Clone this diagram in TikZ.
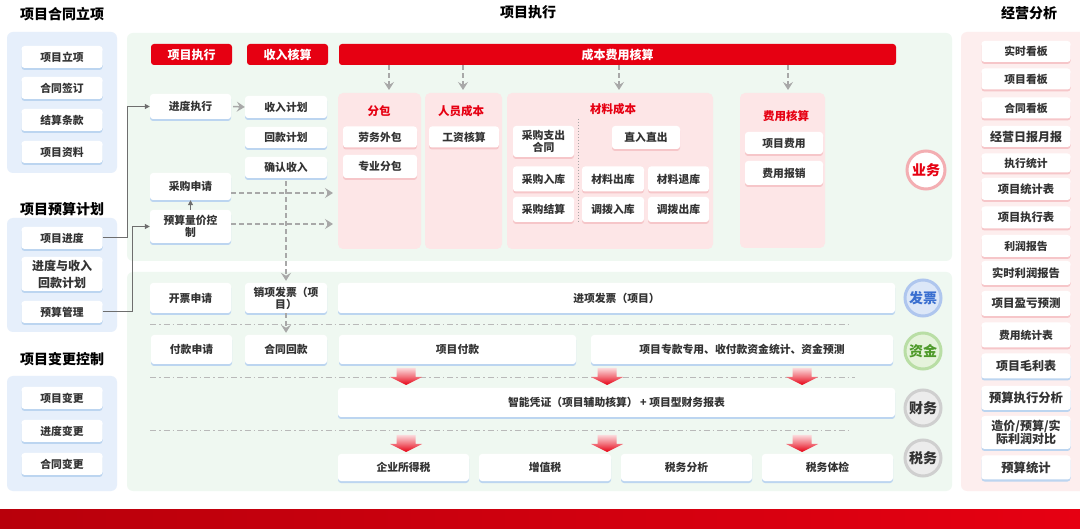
\documentclass[tikz,border=0pt]{standalone}
\usepackage{fontspec}
\setmainfont{Noto Sans CJK SC}
\usetikzlibrary{arrows.meta,calc}
\definecolor{cred}{HTML}{E60012}
\definecolor{cdark}{HTML}{B8000B}
\definecolor{txt}{HTML}{333333}
\definecolor{pblue}{HTML}{E6EFFB}
\definecolor{pgreen}{HTML}{EFF8F1}
\definecolor{ppink}{HTML}{FDEEEE}
\definecolor{cpink}{HTML}{FDE6E7}
\definecolor{shb}{HTML}{BCD5F0}
\definecolor{shp}{HTML}{F6C6C9}
\definecolor{gline}{HTML}{A8A8A8}
\definecolor{cconn}{HTML}{6E6E6E}
\definecolor{ywring}{HTML}{F3AEB2}
\definecolor{fpfill}{HTML}{DCE7F8}
\definecolor{fpring}{HTML}{AFC6EE}
\definecolor{fptext}{HTML}{3A6FD0}
\definecolor{zjfill}{HTML}{E5F3DB}
\definecolor{zjring}{HTML}{B9DEA5}
\definecolor{zjtext}{HTML}{4E9A2A}
\definecolor{cwfill}{HTML}{ECECEC}
\definecolor{cwring}{HTML}{CFCFCF}
\newcommand\fs[2]{\fontsize{#1}{#2}\selectfont\bfseries}
\tikzset{
  x=1pt, y={(0pt,-1pt)},
  wbase/.style={fill=white, rounded corners=3pt, inner sep=1pt, align=center, text=txt, font={\fs{10.8}{12}}},
  wb/.style={wbase, preaction={fill=shb, transform canvas={yshift=-2pt}}},
  wp/.style={wbase, preaction={fill=shp, transform canvas={yshift=-2pt}}},
  redhead/.style={fill=cred, rounded corners=3pt, text=white, font={\fs{12}{14}}, inner sep=0pt},
  ttl/.style={text=black, font={\fs{14}{16}}, inner sep=0pt},
  ptl/.style={text=cred, font={\fs{11.5}{13}}, inner sep=0pt},
  conn/.style={draw=cconn, line width=1pt, -{Triangle[length=5pt,width=5pt]}},
  garrow/.style={draw=gline, line width=1.5pt, -{Stealth[length=8pt,width=10pt,inset=3pt]}},
  darrow/.style={garrow, dash pattern=on 5pt off 3pt},
  ddot/.style={draw=gline!80, line width=0.8pt, dash pattern=on 6pt off 3pt on 1.5pt off 3pt},
  circ/.style={circle, minimum size=36pt, line width=3pt, font={\fs{14}{16}}, inner sep=0pt},
  redarr/.pic={\shade[top color=cred!15, bottom color=cred, middle color=cred!55]
     (-9.5,0) -- (9.5,0) -- (9.5,9) -- (16,9) -- (0,17) -- (-16,9) -- (-9.5,9) -- cycle;}
}
\begin{document}
\begin{tikzpicture}
\useasboundingbox (0,0) rectangle (1080,529);
\clip (0,0) rectangle (1080,529);
\fill[white] (0,0) rectangle (1080,529);
% panels
\fill[pblue, rounded corners=6pt] (7,32) rectangle (117,173);
\fill[pblue, rounded corners=6pt] (7,218) rectangle (117,332);
\fill[pblue, rounded corners=6pt] (7,376) rectangle (117,491);
\fill[pgreen, rounded corners=6pt] (127,33) rectangle (952,261);
\fill[pgreen, rounded corners=6pt] (127,272) rectangle (952,491);
\fill[ppink, rounded corners=6pt] (961,32) rectangle (1095,491);
\fill[cpink, rounded corners=5pt] (338,93) rectangle (421,249);
\fill[cpink, rounded corners=5pt] (425,93) rectangle (502,249);
\fill[cpink, rounded corners=5pt] (507,93) rectangle (713,249);
\fill[cpink, rounded corners=5pt] (740,93) rectangle (825,248);
% bottom bar
\shade[left color=cdark, right color=cred] (0,509) rectangle (1080,529);

% titles
\node[ttl] (t1) at (62,14) {项目合同立项};
\node[ttl] (t2) at (62,209) {项目预算计划};
\node[ttl] (t3) at (62,359) {项目变更控制};
\node[ttl] (t4) at (528,12) {项目执行};
\node[ttl] (t5) at (1029,13) {经营分析};

% left column
\begin{scope}[every node/.append style={minimum width=81, minimum height=22, font={\fs{12}{14}}}]
\node[wb] (l1) at (62,57) {项目立项};
\node[wb] (l2) at (62,88) {合同签订};
\node[wb] (l3) at (62,120) {结算条款};
\node[wb] (l4) at (62,152) {项目资料};
\node[wb] (l5) at (62,238) {项目进度};
\node[wb, minimum height=34, font={\fs{12}{17}}] (l6) at (62,274) {进度与收入\\回款计划};
\node[wb] (l7) at (62,312) {预算管理};
\node[wb] (l8) at (62,398) {项目变更};
\node[wb] (l9) at (62,431) {进度变更};
\node[wb] (l10) at (62,464) {合同变更};
\end{scope}

% red headers
\node[redhead, minimum width=81, minimum height=21] (h1) at (191.5,54.5) {项目执行};
\node[redhead, minimum width=81, minimum height=21] (h2) at (287.5,54.5) {收入核算};
\node[redhead, minimum width=557, minimum height=21] (h3) at (617.5,54.5) {成本费用核算};

% execution column
\node[wb, minimum width=81, minimum height=25] (jdzx) at (190.5,106.5) {进度执行};
\node[wb, minimum width=82, minimum height=22] (srjh) at (286,107) {收入计划};
\node[wb, minimum width=82, minimum height=21] (hkjh) at (286,137.5) {回款计划};
\node[wb, minimum width=82, minimum height=21] (qrsr) at (286,167.5) {确认收入};
\node[wb, minimum width=81, minimum height=27] (cgsq) at (190.5,186.5) {采购申请};
\node[wb, minimum width=81, minimum height=33, font={\fs{10.8}{12}}] (yslj) at (190.5,226.5) {预算量价控\\制};

% cost panel titles
\node[ptl] (pt1) at (379,111.5) {分包};
\node[ptl] (pt2) at (461,111.5) {人员成本};
\node[ptl] (pt3) at (613,109) {材料成本};
\node[ptl] (pt4) at (786,116) {费用核算};

% cost boxes
\node[wp, minimum width=74, minimum height=21] (lwwb) at (380,137) {劳务外包};
\node[wp, minimum width=74, minimum height=23] (zyfb) at (380,166.5) {专业分包};
\node[wp, minimum width=70, minimum height=21] (gzhs) at (464,137) {工资核算};
\node[wp, minimum width=61, minimum height=31, font={\fs{10.8}{11.5}}] (cght) at (543.5,141.5) {采购支出\\合同};
\node[wp, minimum width=68, minimum height=23] (zrzc) at (646,137.5) {直入直出};
\node[wp, minimum width=61, minimum height=25] (cgrk) at (543.5,179) {采购入库};
\node[wp, minimum width=62, minimum height=25] (clck) at (613,179) {材料出库};
\node[wp, minimum width=61, minimum height=25] (cltk) at (678.5,179) {材料退库};
\node[wp, minimum width=61, minimum height=25] (cgjs) at (543.5,209.5) {采购结算};
\node[wp, minimum width=62, minimum height=25] (dbrk) at (613,209.5) {调拨入库};
\node[wp, minimum width=61, minimum height=25] (dbck) at (678.5,209.5) {调拨出库};
\node[wp, minimum width=78, minimum height=22] (xmfy) at (784,143) {项目费用};
\node[wp, minimum width=78, minimum height=24] (fybx) at (784,173) {费用报销};
\draw[draw=gray!70, line width=0.6pt, dash pattern=on 1.5pt off 1.5pt] (578,119) -- (578,222);

% lower section
\node[wb, minimum width=81, minimum height=30] (kpsq) at (190.5,298) {开票申请};
\node[wb, minimum width=82, minimum height=30, font={\fs{10.8}{12}}] (xxfp) at (286,298) {销项发票（项\\目）};
\node[wb, minimum width=557, minimum height=30] (jxfp) at (616.5,298) {进项发票（项目）};
\node[wb, minimum width=81, minimum height=29] (fksq) at (191.5,349.5) {付款申请};
\node[wb, minimum width=82, minimum height=29] (hthk) at (286,349.5) {合同回款};
\node[wb, minimum width=237, minimum height=29] (xmfk) at (457.5,349.5) {项目付款};
\node[wb, minimum width=302, minimum height=29] (zjyc) at (742,349.5) {项目专款专用、收付款资金统计、资金预测};
\node[wb, minimum width=557, minimum height=29] (znpz) at (616.5,402.5) {智能凭证（项目辅助核算） + 项目型财务报表};
\node[wb, minimum width=131, minimum height=27] (qysd) at (403.5,467.5) {企业所得税};
\node[wb, minimum width=132, minimum height=27] (zzs) at (545,467.5) {增值税};
\node[wb, minimum width=131, minimum height=27] (swfx) at (686.5,467.5) {税务分析};
\node[wb, minimum width=131, minimum height=27] (swtj) at (827.5,467.5) {税务体检};

% legend circles
\node[circ, fill=white, draw=ywring, text=cred, minimum size=38pt] (yw) at (926,170) {业务};
\node[circ, fill=fpfill, draw=fpring, text=fptext] (fp) at (923,298) {发票};
\node[circ, fill=zjfill, draw=zjring, text=zjtext] (zj) at (923,351) {资金};
\node[circ, fill=cwfill, draw=cwring, text=txt] (cw) at (923,408) {财务};
\node[circ, fill=cwfill, draw=cwring, text=txt] (sw) at (923,458) {税务};

% dash-dot separators
\draw[ddot] (150,324) -- (848,324);
\draw[ddot] (150,377) -- (855,377);
\draw[ddot] (150,430) -- (849,430);

% red arrows
\foreach \xx in {406,607,802} {
  \pic at (\xx,368) {redarr};
  \pic at (\xx,435) {redarr};
}

% right column
\begin{scope}[every node/.append style={minimum width=89}]
\node[wp, minimum height=21] (r1) at (1026,51.5) {实时看板};
\node[wp, minimum height=21] (r2) at (1026,79) {项目看板};
\node[wp, minimum height=21] (r3) at (1026,108) {合同看板};
\node[wp, minimum height=21, font={\fs{12}{14}}] (r4) at (1026,136.5) {经营日报月报};
\node[wp, minimum height=19] (r5) at (1026,163) {执行统计};
\node[wp, minimum height=22, font={\fs{11.3}{13}}] (r6) at (1026,189) {项目统计表};
\node[wp, minimum height=22, font={\fs{11.3}{13}}] (r7) at (1026,217.5) {项目执行表};
\node[wp, minimum height=22] (r8) at (1026,246) {利润报告};
\node[wp, minimum height=24, font={\fs{11.3}{13}}] (r9) at (1026,273) {实时利润报告};
\node[wp, minimum height=25, font={\fs{11.5}{13}}] (r10) at (1026,303.5) {项目盈亏预测};
\node[wp, minimum height=25] (r11) at (1026,335) {费用统计表};
\node[wb, minimum height=25, font={\fs{12}{14}}] (r12) at (1026,366) {项目毛利表};
\node[wb, minimum height=24, font={\fs{12.3}{14}}] (r13) at (1026,398) {预算执行分析};
\node[wb, minimum height=33, font={\fs{12}{13.5}}] (r14) at (1026,432.5) {造价/预算/实\\际利润对比};
\node[wb, minimum height=24, font={\fs{12.3}{14}}] (r15) at (1026,467.5) {预算统计};
\end{scope}

% connectors
\coordinate (v1) at (127,0);
\coordinate (v2) at (132,0);
\draw[conn] (l5.east) -- (l5.east -| v1) |- (jdzx.west);
\draw[conn] (l7.east) -- (l7.east -| v2) |- (yslj.west);
\draw[conn] (yslj.north) -- (cgsq.south);
\draw[garrow, shorten <=2pt] (jdzx.east) -- (srjh.west);
\coordinate (e1) at (333,193);
\coordinate (e2) at (333,224);
\draw[darrow] (cgsq.east |- e1) -- (e1);
\draw[darrow] (yslj.east |- e2) -- (e2);
\draw[darrow, shorten <=3pt, shorten >=2pt] (qrsr.south) -- (xxfp.north);
\draw[darrow, shorten >=2pt] (xxfp.south) -- (hthk.north);
\coordinate (a1) at (389,90);
\coordinate (a2) at (463,90);
\coordinate (a3) at (619,90);
\coordinate (a4) at (788,90);
\foreach \a in {a1,a2,a3,a4} { \draw[darrow] (h3.south -| \a) -- (\a); }
\end{tikzpicture}
\end{document}
